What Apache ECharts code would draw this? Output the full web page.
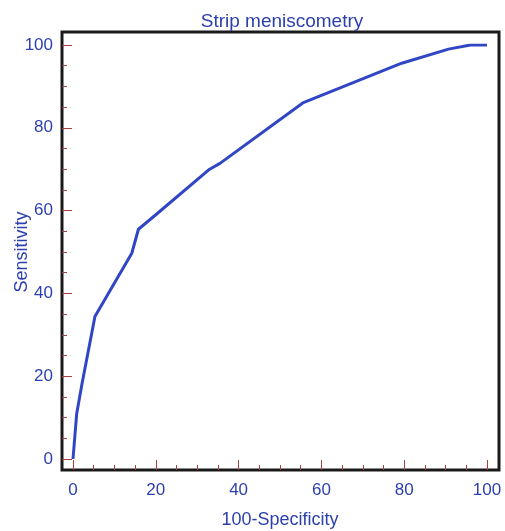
<!DOCTYPE html>
<html>
<head>
<meta charset="utf-8">
<script src="https://cdn.jsdelivr.net/npm/echarts@6/dist/echarts.min.js"></script>
<style>
  html, body { margin: 0; padding: 0; background: #fff; }
  #container { width: 505px; height: 531px; }
</style>
</head>
<body>
<div id="container"></div>
<script>
// ROC curve points
let fpr = [0, 0.9, 2.2, 5.3, 14.2, 15.8, 20, 33, 35.5, 55.5, 79.4, 90.7, 96, 100];
let sens = [0, 11, 18.3, 34.4, 49.7, 55.5, 59, 70, 71.4, 86, 95.6, 99, 100, 100];

let dom = document.getElementById("container");
let myChart = echarts.init(dom);

let blue = '#2c3fae';
let tickRed = '#a84040';
let font = 'Liberation Sans';

function axisCommon(name) {
    return {
        type: 'value',
        gridIndex: 0,
        min: 0,
        max: 100,
        interval: 20,
        offset: 11,
        name: name,
        nameLocation: 'middle',
        nameMoveOverlap: false,
        nameTextStyle: { color: blue, fontFamily: font, fontSize: 18 },
        axisLine: { show: false, onZero: false },
        axisTick: { show: true, inside: true, length: 10, lineStyle: { color: tickRed, width: 1 } },
        minorTick: { show: true, splitNumber: 4, length: 5, lineStyle: { color: tickRed, width: 1 } },
        splitLine: { show: false },
        axisLabel: { color: blue, fontFamily: font, fontSize: 17 }
    };
}

let data = fpr.map((x, i) => [x, sens[i]]);

let xMain = axisCommon('100-Specificity');
xMain.nameGap = 41;
xMain.axisLabel.margin = 12;
let yMain = axisCommon('Sensitivity');
yMain.nameGap = 31;
yMain.axisLabel.margin = 9;

// outer frame axes (no marks, just the box around the plot)
let xFrame = { type: 'value', gridIndex: 1, min: 0, max: 1, show: false };
let yFrame = { type: 'value', gridIndex: 1, min: 0, max: 1, show: false };

let option = {
    backgroundColor: '#fff',
    title: {
        text: 'Strip meniscometry',
        left: 277,
        textAlign: 'center',
        top: 7,
        textStyle: { color: blue, fontFamily: font, fontSize: 19, fontWeight: 'normal' }
    },
    grid: [
        { left: 73, right: 18, top: 45, bottom: 72, containLabel: false, outerBoundsMode: 'none' },
        {
            left: 62, right: 6, top: 32, bottom: 61,
            containLabel: false, outerBoundsMode: 'none',
            show: true,
            borderColor: '#1a1a1a',
            borderWidth: 3
        }
    ],
    xAxis: [xMain, xFrame],
    yAxis: [yMain, yFrame],
    series: [
        {
            type: 'line',
            xAxisIndex: 0,
            yAxisIndex: 0,
            data: data,
            symbol: 'none',
            lineStyle: { color: '#3146c4', width: 3 }
        }
    ],
    animation: false
};

myChart.setOption(option, true);
</script>
</body>
</html>
